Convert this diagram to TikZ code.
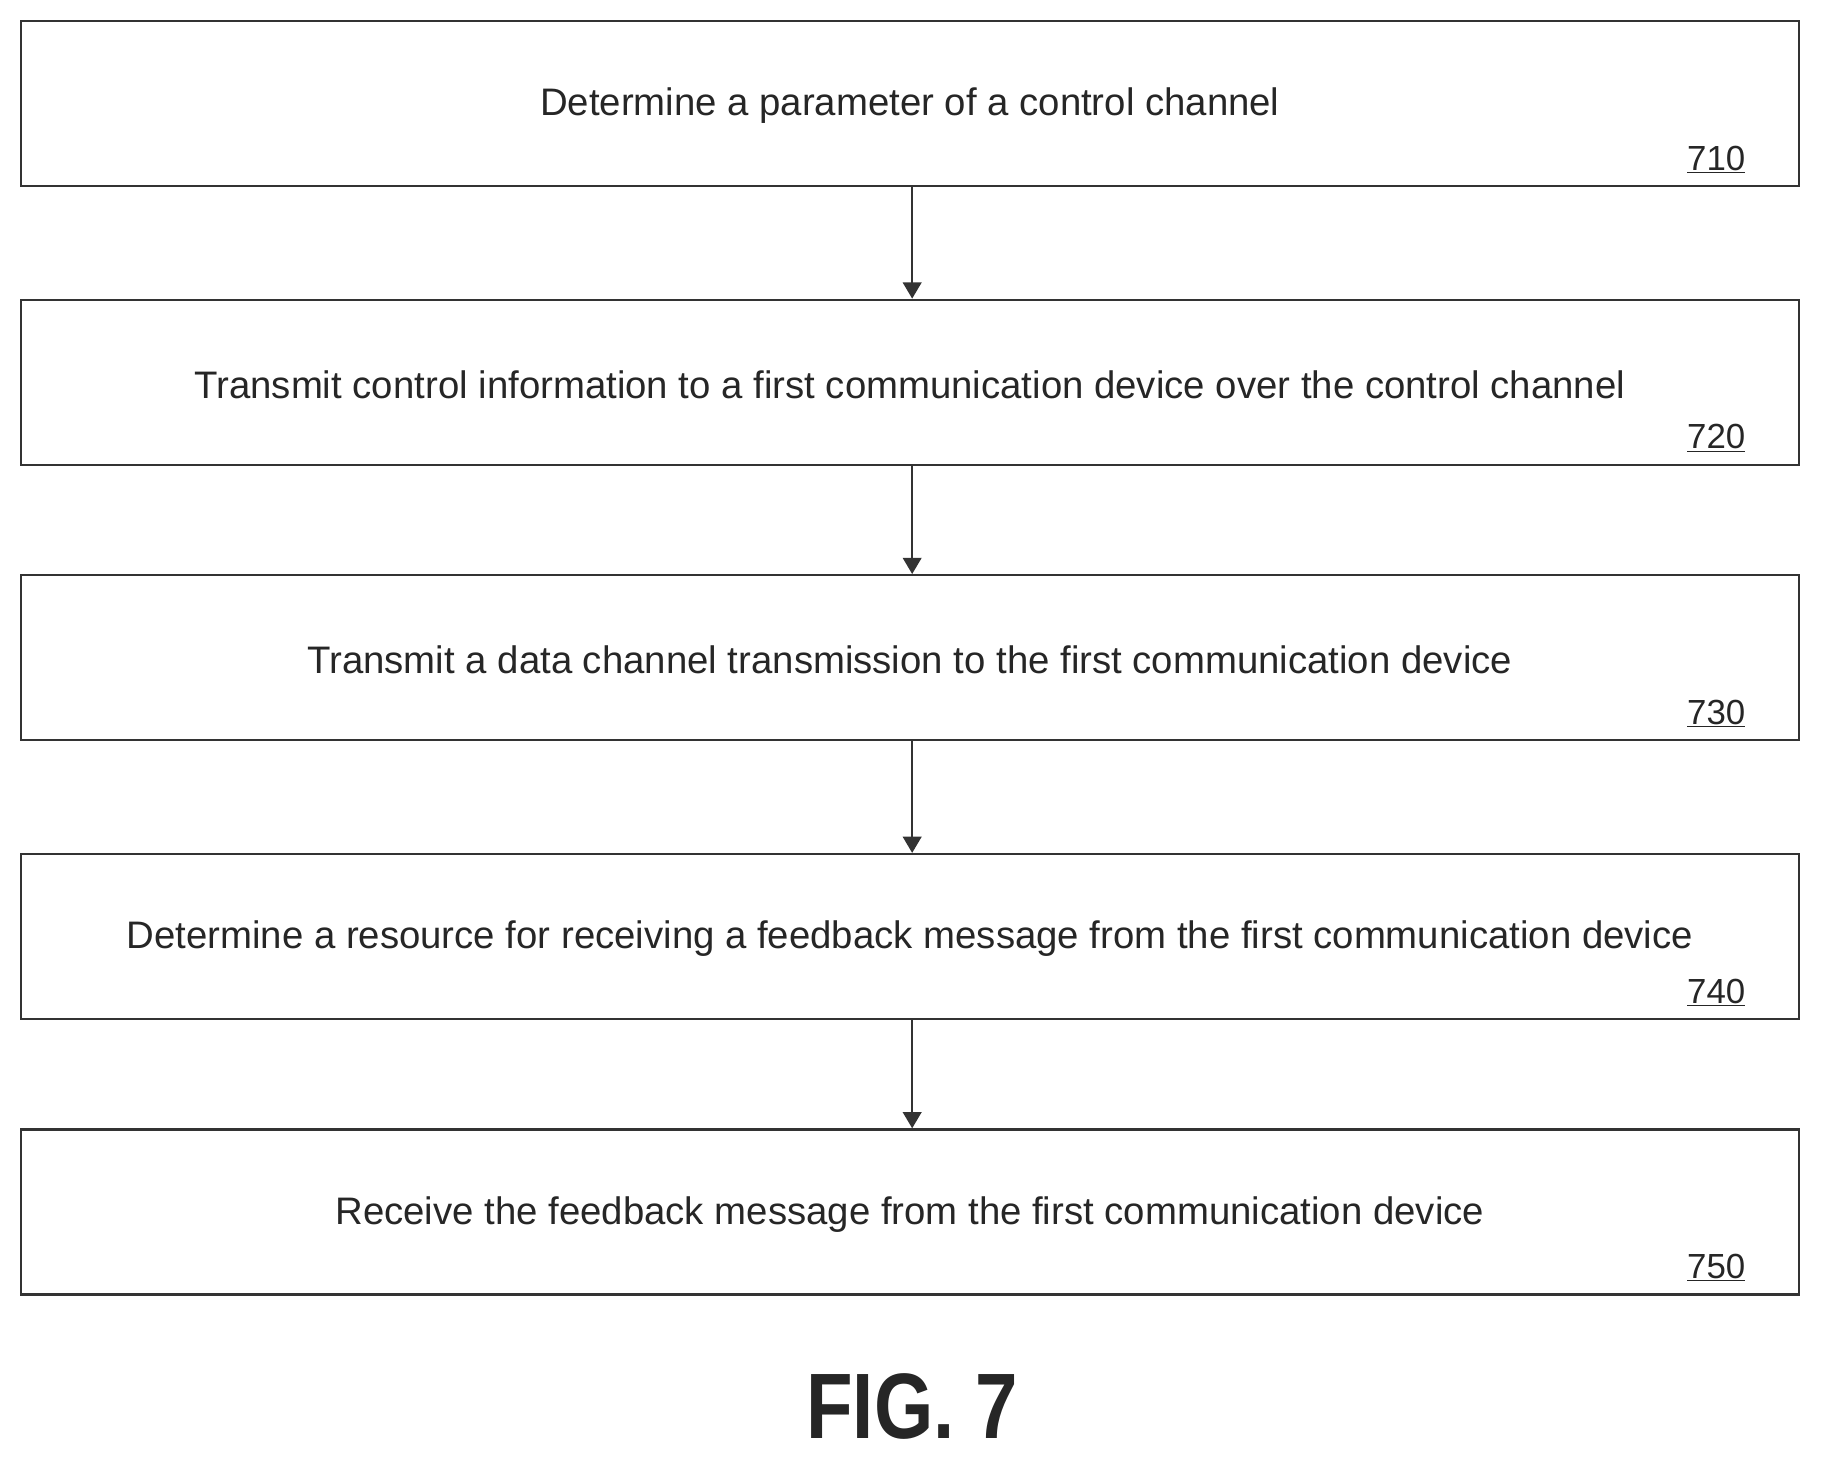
\documentclass[tikz,border=0pt]{standalone}
\usepackage{fontspec}
\setmainfont{Liberation Sans}
\usetikzlibrary{arrows.meta}
\begin{document}
\begin{tikzpicture}[x=1pt,y=-1pt,
 box/.style={draw=black!80,line width=2pt,minimum width=1530pt,minimum height=142pt,inner sep=0pt},
 txt/.style={font=\fontsize{33}{36}\selectfont,text=black!85},
 num/.style={font=\fontsize{30}{34}\selectfont,text=black!85},
 arr/.style={draw=black!80,line width=2pt,-{Triangle[width=16pt,length=14pt]}}]
\useasboundingbox (0,0) rectangle (1568,1256);
\foreach \n/\t/\s in {710/18/Determine a parameter of a control channel,
 720/258/Transmit control information to a first communication device over the control channel,
 730/495/Transmit a data channel transmission to the first communication device,
 740/735/Determine a resource for receiving a feedback message from the first communication device,
 750/972/Receive the feedback message from the first communication device}{
 \node[box] (b\n) at (783,\t+71) {};
 \node[txt] (t\n) at (783,\t+73) {\s};
 \node[num] (n\n) at (1477,\t+119) {\underline{\n}};
}
\draw[arr] (b710.south -| 785,0) -- (b720.north -| 785,0);
\draw[arr] (b720.south -| 785,0) -- (b730.north -| 785,0);
\draw[arr] (b730.south -| 785,0) -- (b740.north -| 785,0);
\draw[arr] (b740.south -| 785,0) -- (b750.north -| 785,0);
\node[font=\fontsize{80}{90}\selectfont\bfseries,text=black!85,xscale=0.82] (fig) at (785,1210) {FIG. 7};
\end{tikzpicture}
\end{document}
